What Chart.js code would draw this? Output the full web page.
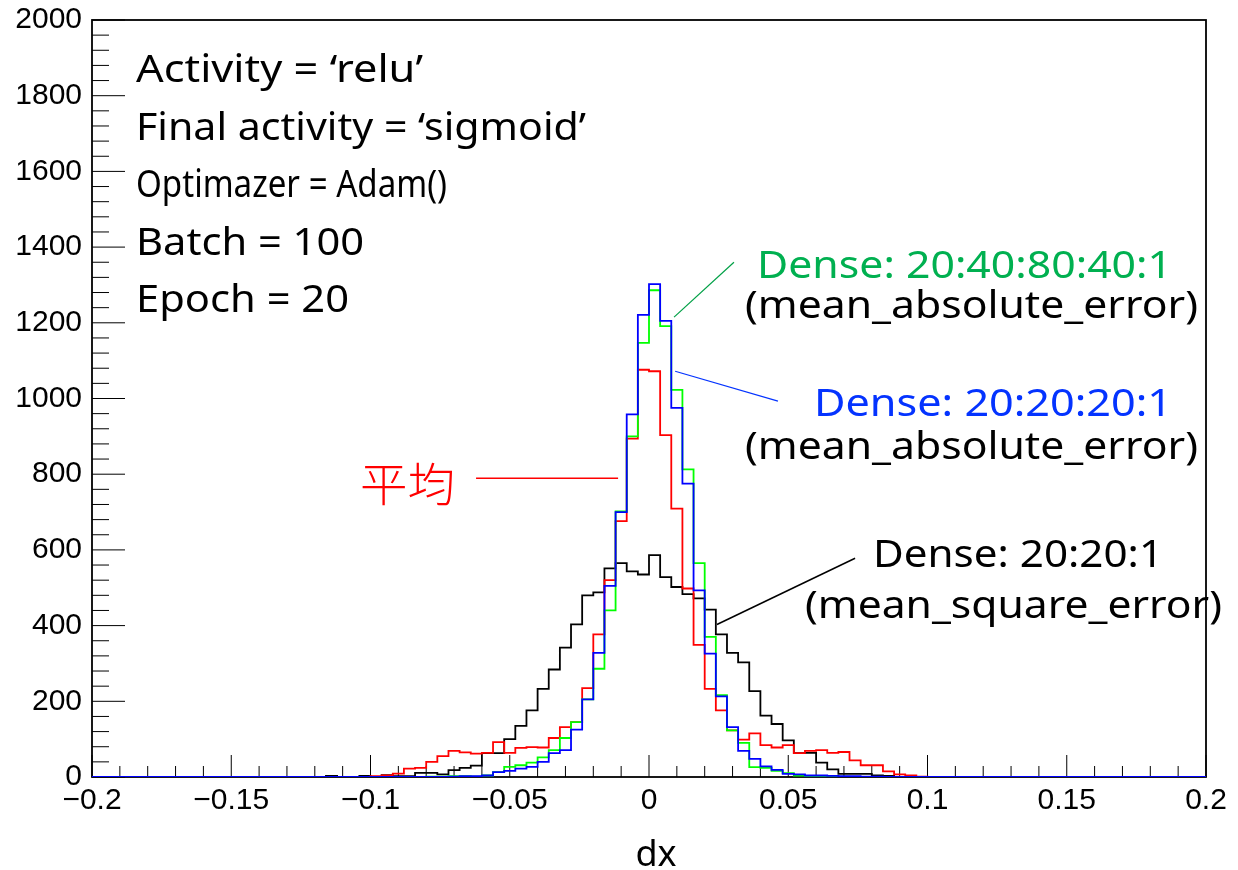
<!DOCTYPE html>
<html>
<head>
<meta charset="utf-8">
<script src="https://cdn.jsdelivr.net/npm/chart.js@4.4.1/dist/chart.umd.min.js"></script>
<style>
html, body { margin: 0; padding: 0; background: #fff; }
#wrap { width: 1238px; height: 870px; position: relative; }
</style>
</head>
<body>
<div id="wrap"><canvas id="dxHist"></canvas></div>
<script>
// histogram binning: 100 bins of 0.004 from -0.2 to 0.2
const X_MIN = -0.2, X_MAX = 0.2, BIN_WIDTH = 0.004;
const Y_MIN = 0, Y_MAX = 2000;

const xTickValues = [-0.2, -0.15, -0.1, -0.05, 0, 0.05, 0.1, 0.15, 0.2];
const xTickLabels = ['\u22120.2', '\u22120.15', '\u22120.1', '\u22120.05', '0', '0.05', '0.1', '0.15', '0.2'];
const yTickValues = [0, 200, 400, 600, 800, 1000, 1200, 1400, 1600, 1800, 2000];

// Dense: 20:20:1 (mean_square_error)
const blackCounts = [
    0, 0, 0, 0, 0, 0, 0, 0, 0, 0,
    0, 0, 0, 0, 0, 0, 0, 0, 0, 0,
    0, 3, 0, 0, 3, 0, 5, 2, 2, 11,
    11, 7, 18, 24, 30, 63, 63, 100, 135, 176,
    233, 284, 342, 403, 480, 488, 551, 565, 543, 535,
    586, 528, 502, 483, 472, 442, 377, 328, 303, 227,
    162, 140, 97, 63, 64, 38, 20, 8, 8, 8,
    4, 3, 0, 0, 0, 0, 0, 0, 0, 0,
    0, 0, 0, 0, 0, 0, 0, 0, 0, 0,
    0, 0, 0, 0, 0, 0, 0, 0, 0, 0
];
// 平均
const redCounts = [
    0, 0, 0, 0, 0, 0, 0, 0, 0, 0,
    0, 0, 0, 0, 0, 0, 0, 0, 0, 0,
    0, 0, 0, 0, 0, 2, 4, 9, 22, 24,
    40, 55, 69, 65, 62, 64, 92, 64, 77, 79,
    78, 103, 132, 145, 235, 377, 520, 676, 894, 1076,
    1072, 903, 709, 498, 349, 233, 176, 123, 99, 115,
    84, 78, 84, 63, 69, 71, 64, 66, 44, 31,
    31, 15, 7, 4, 1, 0, 0, 0, 0, 0,
    0, 0, 0, 0, 0, 0, 0, 0, 0, 0,
    0, 0, 0, 0, 0, 0, 0, 0, 0, 0
];
// Dense: 20:40:80:40:1 (mean_absolute_error)
const greenCounts = [
    0, 0, 0, 0, 0, 0, 0, 0, 0, 0,
    0, 0, 0, 0, 0, 0, 0, 0, 0, 0,
    0, 0, 0, 0, 0, 0, 0, 0, 0, 0,
    1, 1, 2, 2, 1, 4, 13, 27, 31, 38,
    52, 71, 103, 145, 205, 286, 440, 702, 900, 1147,
    1286, 1191, 1023, 813, 565, 370, 216, 123, 90, 26,
    24, 16, 10, 4, 2, 2, 1, 1, 0, 0,
    0, 0, 0, 0, 0, 0, 0, 0, 0, 0,
    0, 0, 0, 0, 0, 0, 0, 0, 0, 0,
    0, 0, 0, 0, 0, 0, 0, 0, 0, 0
];
// Dense: 20:20:20:1 (mean_absolute_error)
const blueCounts = [
    0, 0, 0, 0, 0, 0, 0, 0, 0, 0,
    0, 0, 0, 0, 0, 0, 0, 0, 0, 0,
    0, 0, 0, 0, 0, 0, 0, 0, 0, 0,
    0, 0, 1, 2, 2, 4, 13, 16, 22, 27,
    40, 63, 71, 125, 205, 328, 505, 700, 958, 1221,
    1302, 1205, 975, 775, 493, 326, 213, 132, 69, 48,
    28, 19, 8, 7, 4, 4, 3, 2, 2, 1,
    1, 0, 0, 0, 0, 0, 0, 0, 0, 0,
    0, 0, 0, 0, 0, 0, 0, 0, 0, 0,
    0, 0, 0, 0, 0, 0, 0, 0, 0, 0
];

// one point per low bin edge, plus the closing edge
function histPoints(counts) {
    let pts = counts.map((c, i) => ({ x: X_MIN + i * BIN_WIDTH, y: c }));
    pts.push({ x: X_MAX, y: counts[counts.length - 1] });
    return pts;
}

const TICK_FONT = 'Liberation Sans, Arial, Helvetica, sans-serif';
const TEXT_FONT = '"Noto Sans", "Open Sans", sans-serif';
const CJK_FONT = '"Noto Sans CJK JP", "Noto Sans CJK SC", sans-serif';

// ROOT style frame with inner ticks
const rootFrame = {
    id: 'rootFrame',
    beforeDatasetsDraw(chart) {
        const { ctx, chartArea: a, scales: { x, y } } = chart;
        ctx.save();
        ctx.strokeStyle = '#000';
        ctx.lineWidth = 1;
        ctx.beginPath();
        for (let k = 0; k <= 50; k++) {
            let py = y.getPixelForValue(k * 40);
            let len = (k % 5 === 0) ? 33 : 17;
            ctx.moveTo(a.left, py);
            ctx.lineTo(a.left + len, py);
        }
        for (let k = 0; k <= 40; k++) {
            let px = x.getPixelForValue(X_MIN + k * 0.01);
            let len = (k % 5 === 0) ? 22 : 11;
            ctx.moveTo(px, a.bottom);
            ctx.lineTo(px, a.bottom - len);
        }
        ctx.stroke();
        ctx.lineWidth = 1.8;
        ctx.strokeRect(a.left, a.top, a.right - a.left, a.bottom - a.top);
        ctx.restore();
    },
    afterDraw(chart) {
        const { ctx, scales: { x, y } } = chart;
        ctx.save();
        // axis title
        ctx.fillStyle = '#000';
        ctx.font = '36px ' + TEXT_FONT;
        ctx.textAlign = 'center';
        ctx.textBaseline = 'alphabetic';
        ctx.fillText('dx', 656, 866);
        ctx.textAlign = 'left';

        // pointer lines, given in data units
        const pointers = [
            { from: [0.0305, 1360], to: [0.0090, 1215], color: '#00a046', width: 1.2 },
            { from: [0.0463, 993], to: [0.0094, 1072], color: '#0433ff', width: 1.2 },
            { from: [-0.0621, 789], to: [-0.0111, 789], color: '#ff0000', width: 1.5 },
            { from: [0.0740, 578], to: [0.0244, 403], color: '#000000', width: 1.5 }
        ];
        pointers.forEach(p => {
            ctx.strokeStyle = p.color;
            ctx.lineWidth = p.width;
            ctx.beginPath();
            ctx.moveTo(x.getPixelForValue(p.from[0]), y.getPixelForValue(p.from[1]));
            ctx.lineTo(x.getPixelForValue(p.to[0]), y.getPixelForValue(p.to[1]));
            ctx.stroke();
        });

        const labels = [
            ['Activity = \u2018relu\u2019', 136, 82, 287, '#000', TEXT_FONT, 39],
            ['Final activity = \u2018sigmoid\u2019', 136, 140, 450, '#000', TEXT_FONT, 39],
            ['Optimazer = Adam()', 136, 197, 311, '#000', TEXT_FONT, 39],
            ['Batch = 100', 136, 255, 228, '#000', TEXT_FONT, 39],
            ['Epoch = 20', 136, 312, 213, '#000', TEXT_FONT, 39],
            ['Dense: 20:40:80:40:1', 757, 278, 415, '#00b050', TEXT_FONT, 39],
            ['(mean_absolute_error)', 745, 318, 453, '#000', TEXT_FONT, 39],
            ['Dense: 20:20:20:1', 814, 416, 358, '#0433ff', TEXT_FONT, 39],
            ['(mean_absolute_error)', 745, 459, 453, '#000', TEXT_FONT, 39],
            ['平均', 360, 501, 95, '#ff0000', CJK_FONT, 46],
            ['Dense: 20:20:1', 873, 567, 290, '#000', TEXT_FONT, 39],
            ['(mean_square_error)', 805, 618, 417, '#000', TEXT_FONT, 39]
        ];
        labels.forEach(([text, lx, base, width, color, family, size]) => {
            ctx.font = (family === CJK_FONT ? '300 ' : '') + size + 'px ' + family;
            let w = ctx.measureText(text).width;
            ctx.save();
            ctx.translate(lx, base);
            ctx.scale(width / w, 1);
            ctx.fillStyle = color;
            ctx.fillText(text, 0, 0);
            ctx.restore();
        });
        ctx.restore();
    }
};

function makeDataset(label, counts, color) {
    return {
        label: label,
        data: histPoints(counts),
        borderColor: color,
        borderWidth: 1.8,
        stepped: 'before', // value holds from its low edge up to the next edge
        pointRadius: 0,
        fill: false,
        tension: 0
    };
}

const ctx = document.getElementById('dxHist').getContext('2d');
new Chart(ctx, {
    type: 'line',
    data: {
        // first dataset is drawn on top
        datasets: [
            makeDataset('Dense: 20:20:20:1', blueCounts, '#0000ff'),
            makeDataset('Dense: 20:40:80:40:1', greenCounts, '#00ff00'),
            makeDataset('平均', redCounts, '#ff0000'),
            makeDataset('Dense: 20:20:1', blackCounts, '#000000')
        ]
    },
    options: {
        responsive: true,
        maintainAspectRatio: false,
        animation: false,
        layout: { padding: { top: 20, right: 32, left: 0, bottom: 0 } },
        scales: {
            x: {
                type: 'linear',
                min: X_MIN,
                max: X_MAX,
                grid: { display: false, drawTicks: false },
                border: { display: false },
                afterBuildTicks: scale => { scale.ticks = xTickValues.map(v => ({ value: v })); },
                afterFit: scale => {
                    scale.height = 93;
                    scale.paddingLeft = 0;
                    scale.paddingRight = 0;
                },
                ticks: {
                    autoSkip: false,
                    maxRotation: 0,
                    padding: 6,
                    color: '#000',
                    font: { family: TICK_FONT, size: 30 },
                    callback: (v, i) => xTickLabels[i]
                }
            },
            y: {
                min: Y_MIN,
                max: Y_MAX,
                grid: { display: false, drawTicks: false },
                border: { display: false },
                afterBuildTicks: scale => { scale.ticks = yTickValues.map(v => ({ value: v })); },
                afterFit: scale => {
                    scale.width = 92;
                    scale.paddingTop = 0;
                    scale.paddingBottom = 0;
                },
                ticks: {
                    autoSkip: false,
                    padding: 10,
                    color: '#000',
                    font: { family: TICK_FONT, size: 30 },
                    callback: v => String(v)
                }
            }
        },
        plugins: {
            legend: { display: false },
            tooltip: { enabled: false }
        }
    },
    plugins: [rootFrame]
});
</script>
</body>
</html>
